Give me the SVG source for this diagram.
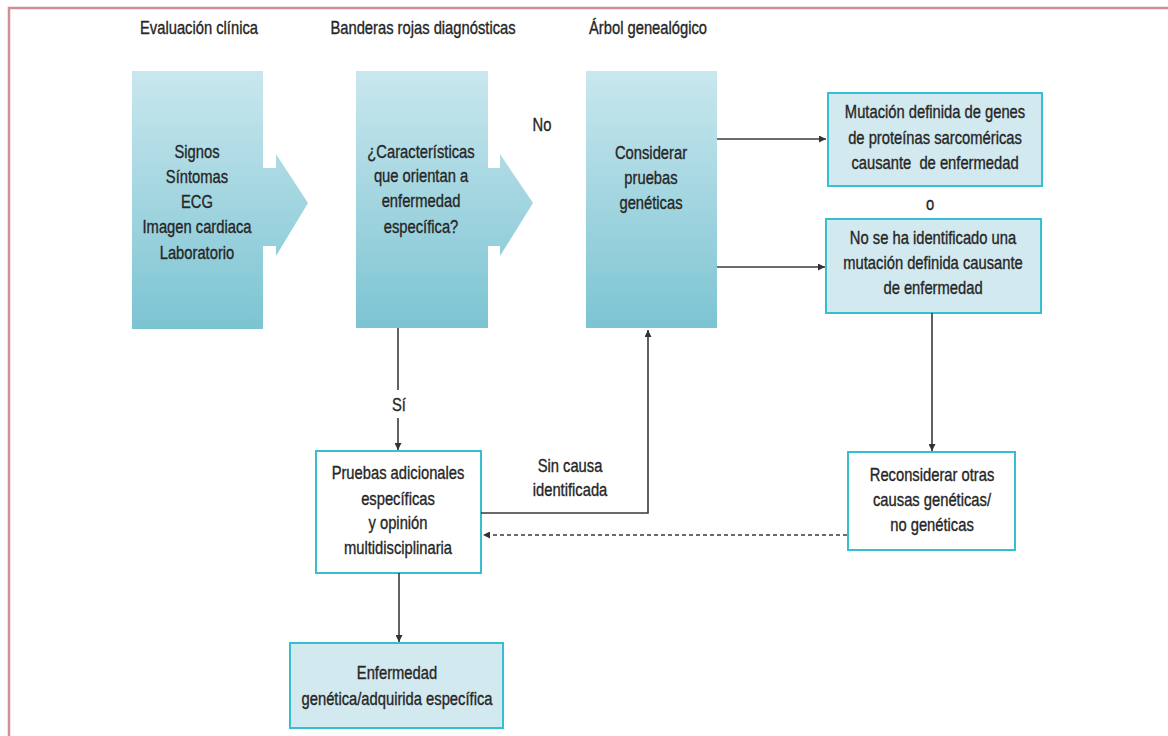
<svg xmlns="http://www.w3.org/2000/svg" width="1168" height="736" viewBox="0 0 1168 736">
<defs>
<linearGradient id="g" x1="0" y1="71" x2="0" y2="329" gradientUnits="userSpaceOnUse">
<stop offset="0" stop-color="#c9e7ee"/>
<stop offset="1" stop-color="#7cc4d2"/>
</linearGradient>
<marker id="ah" viewBox="0 0 10 10" refX="10" refY="5" markerWidth="7" markerHeight="7" markerUnits="userSpaceOnUse" orient="auto">
<path d="M0,0 L10,5 L0,10 Z" fill="#333"/>
</marker>
<style>
text{font-family:"Liberation Sans",Arial,sans-serif;fill:#262626;stroke:#262626;stroke-width:0.35;text-anchor:middle;font-size:18px}
.big{fill:url(#g)}
.lb{fill:#d2e9ef;stroke:#36bfd0;stroke-width:2}
.wb{fill:#fff;stroke:#36bfd0;stroke-width:2}
.ln{fill:none;stroke:#3a3a3a;stroke-width:1.6}
.ds{fill:none;stroke:#3a3a3a;stroke-width:1.6;stroke-dasharray:4 3}
</style>
</defs>
<rect x="0" y="0" width="1168" height="736" fill="#fff"/>
<path d="M9,740 L9,8 L1172,8" fill="none" stroke="#cf8f95" stroke-width="2.5"/>

<g id="headers">
<text transform="translate(199,34) scale(0.82,1)">Evaluación clínica</text>
<text transform="translate(423,34) scale(0.82,1)">Banderas rojas diagnósticas</text>
<text transform="translate(648,34) scale(0.82,1)">Árbol genealógico</text>
</g>

<g id="n1">
<rect class="big" x="132" y="71" width="131" height="258"/>
<polygon class="big" points="263,168 276,168 276,154 308,203 276,256 276,246 263,246"/>
<text transform="translate(197,158) scale(0.82,1)">Signos</text>
<text transform="translate(197,183) scale(0.82,1)">Síntomas</text>
<text transform="translate(197,208) scale(0.82,1)">ECG</text>
<text transform="translate(197,233) scale(0.82,1)">Imagen cardiaca</text>
<text transform="translate(197,259) scale(0.82,1)">Laboratorio</text>
</g>

<g id="n2">
<rect class="big" x="356" y="71" width="132" height="257"/>
<polygon class="big" points="488,168 500,168 500,154 533,203 500,256 500,246 488,246"/>
<text transform="translate(421,158) scale(0.82,1)">¿Características</text>
<text transform="translate(421,182) scale(0.82,1)">que orientan a</text>
<text transform="translate(421,207) scale(0.82,1)">enfermedad</text>
<text transform="translate(421,233) scale(0.82,1)">específica?</text>
</g>

<g id="n3">
<rect class="big" x="586" y="71" width="131" height="257"/>
<text transform="translate(651,159) scale(0.82,1)">Considerar</text>
<text transform="translate(651,184) scale(0.82,1)">pruebas</text>
<text transform="translate(651,209) scale(0.82,1)">genéticas</text>
</g>

<g id="n4">
<rect class="lb" x="828" y="93" width="214" height="93"/>
<text transform="translate(935,118) scale(0.82,1)">Mutación definida de genes</text>
<text transform="translate(935,144) scale(0.82,1)">de proteínas sarcoméricas</text>
<text transform="translate(935,169) scale(0.82,1)" xml:space="preserve">causante  de enfermedad</text>
</g>

<g id="n5">
<rect class="lb" x="826" y="219" width="215" height="94"/>
<text transform="translate(933,244) scale(0.82,1)">No se ha identificado una</text>
<text transform="translate(933,269) scale(0.82,1)">mutación definida causante</text>
<text transform="translate(933,294) scale(0.82,1)">de enfermedad</text>
</g>

<g id="n6">
<rect class="wb" x="316" y="451" width="165" height="122"/>
<text transform="translate(398,479) scale(0.82,1)">Pruebas adicionales</text>
<text transform="translate(398,505) scale(0.82,1)">específicas</text>
<text transform="translate(398,529) scale(0.82,1)">y opinión</text>
<text transform="translate(398,554) scale(0.82,1)">multidisciplinaria</text>
</g>

<g id="n7">
<rect class="wb" x="848" y="452" width="167" height="98"/>
<text transform="translate(932,481) scale(0.82,1)">Reconsiderar otras</text>
<text transform="translate(932,506) scale(0.82,1)">causas genéticas/</text>
<text transform="translate(932,531) scale(0.82,1)">no genéticas</text>
</g>

<g id="n8">
<rect class="lb" x="290" y="643" width="213" height="85"/>
<text transform="translate(397,679) scale(0.82,1)">Enfermedad</text>
<text transform="translate(397,705) scale(0.82,1)">genética/adquirida específica</text>
</g>

<g id="labels">
<text transform="translate(542,131) scale(0.82,1)">No</text>
<text transform="translate(930,210) scale(0.82,1)">o</text>
<text transform="translate(399,411) scale(0.82,1)">Sí</text>
<text transform="translate(570,472) scale(0.82,1)">Sin causa</text>
<text transform="translate(570,496) scale(0.82,1)">identificada</text>
</g>

<g id="connectors">
<line class="ln" x1="717" y1="139" x2="826" y2="139" marker-end="url(#ah)"/>
<line class="ln" x1="717" y1="267" x2="825" y2="267" marker-end="url(#ah)"/>
<line class="ln" x1="398" y1="328" x2="398" y2="390"/>
<line class="ln" x1="398" y1="418" x2="398" y2="450" marker-end="url(#ah)"/>
<polyline class="ln" points="481,513 648,513 648,330" marker-end="url(#ah)"/>
<line class="ln" x1="932" y1="313" x2="932" y2="451" marker-end="url(#ah)"/>
<line class="ds" x1="847" y1="535" x2="483" y2="535" marker-end="url(#ah)"/>
<line class="ln" x1="399" y1="573" x2="399" y2="642" marker-end="url(#ah)"/>
</g>
</svg>
